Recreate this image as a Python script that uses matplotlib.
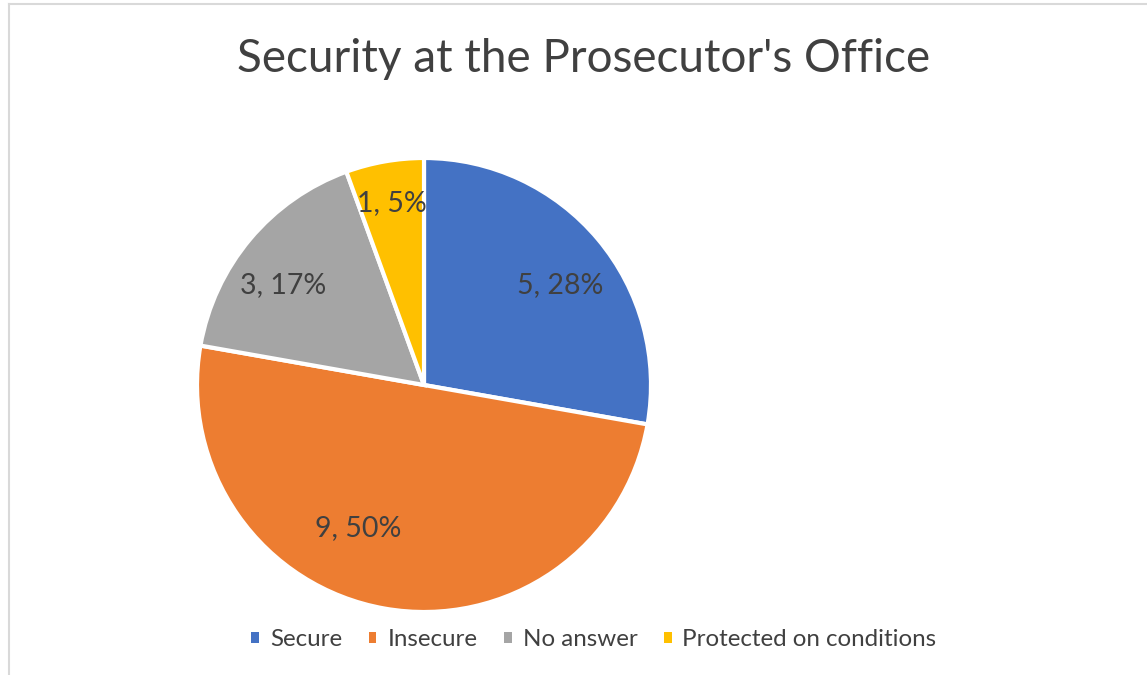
import matplotlib
matplotlib.use("Agg")
import matplotlib.pyplot as plt
from matplotlib.lines import Line2D

title = "Security at the Prosecutor's Office"
categories = ["Secure", "Insecure", "No answer", "Protected on conditions"]
values = [5, 9, 3, 1]
percent_labels = ["28%", "50%", "17%", "5%"]
colors = ["#4472C4", "#ED7D31", "#A5A5A5", "#FFC000"]

# label placement inside slices (in pie-radius units), style only
label_pos = [(0.60, 0.44), (-0.29, -0.63), (-0.62, 0.44), (-0.14, 0.80)]

plt.rcParams['font.family'] = ['Lato', 'DejaVu Sans']

W, H = 1147, 675
fig = plt.figure(figsize=(W / 100, H / 100), dpi=100)
fig.patch.set_facecolor("white")

# chart border (top and left visible)
fig.add_artist(Line2D([9 / W, 1.0], [1 - 4 / H, 1 - 4 / H], color="#d9d9d9", lw=1.5, transform=fig.transFigure))
fig.add_artist(Line2D([9 / W, 9 / W], [1 - 4 / H, 0.0], color="#d9d9d9", lw=1.5, transform=fig.transFigure))

cx, cy, r = 424, 385, 227
ax = fig.add_axes([(cx - r) / W, (H - cy - r) / H, 2 * r / W, 2 * r / H])

label_iter = iter([f"{v}, {p}" for v, p in zip(values, percent_labels)])

wedges, texts, autotexts = ax.pie(
    values,
    colors=colors,
    startangle=90,
    counterclock=False,
    radius=1.0,
    autopct=lambda pct: next(label_iter),
    pctdistance=0.74,
    wedgeprops=dict(edgecolor="white", linewidth=3),
    textprops=dict(color="#404040", fontsize=20.5),
)
for t, (x, y) in zip(autotexts, label_pos):
    t.set_position((x, y))
    t.set_ha("center")
    t.set_va("center")

ax.set_xlim(-1.0, 1.0)
ax.set_ylim(-1.0, 1.0)
ax.set_aspect("equal")
ax.axis("off")

fig.text(584 / W, 1 - 59 / H, title, ha="center", va="center", fontsize=33, color="#404040")

leg = fig.legend(
    wedges, categories,
    loc="center", bbox_to_anchor=(594 / W, 1 - 640 / H),
    ncol=4, frameon=False, fontsize=17.4,
    handlelength=0.32, handleheight=0.32, handletextpad=0.45, columnspacing=1.1,
    labelcolor="#404040",
)
for h in leg.legend_handles:
    h.set_linewidth(0)

fig.savefig("out.png", dpi=100, facecolor="white")
